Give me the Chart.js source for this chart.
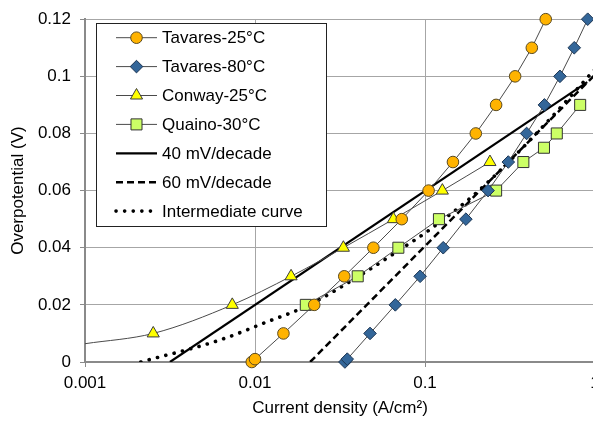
<!DOCTYPE html>
<html lang="en">
<head>
  <meta charset="UTF-8">
  <title>Overpotential vs current density</title>
  <script src="https://cdn.jsdelivr.net/npm/chart.js"></script>
  <style>
    html, body {
      margin: 0;
      padding: 0;
      background: #fff;
      overflow: hidden;
    }
    #wrap {
      position: absolute;
      left: 0;
      top: 0;
      width: 640px;
      height: 422px;
    }
  </style>
</head>
<body>

  <div id="wrap"><canvas id="tafelChart" width="640" height="422"></canvas></div>

  <script>
    // x = current density (A/cm2), y = overpotential (V)
    const tavares25X = [0.00957, 0.0100, 0.0147, 0.0223, 0.0335, 0.0497, 0.073, 0.105, 0.146, 0.199, 0.262, 0.339, 0.425, 0.513];
    const tavares25Y = [0, 0.001, 0.01, 0.02, 0.03, 0.04, 0.05, 0.06, 0.07, 0.08, 0.09, 0.10, 0.11, 0.12];

    const tavares80X = [0.0338, 0.0349, 0.0475, 0.0669, 0.0936, 0.128, 0.174, 0.235, 0.309, 0.396, 0.504, 0.622, 0.755, 0.906];
    const tavares80Y = [0, 0.001, 0.01, 0.02, 0.03, 0.04, 0.05, 0.06, 0.07, 0.08, 0.09, 0.10, 0.11, 0.12];

    const conwayX = [0.001, 0.00252, 0.00735, 0.0163, 0.0331, 0.0652, 0.1265, 0.241];
    const conwayY = [0.0064, 0.01, 0.02, 0.03, 0.04, 0.05, 0.06, 0.07];

    const quainoX = [0.0199, 0.0402, 0.0697, 0.1208, 0.262, 0.379, 0.501, 0.596, 0.818];
    const quainoY = [0.02, 0.03, 0.04, 0.05, 0.06, 0.07, 0.075, 0.08, 0.09];

    const tafel40X = [0.00316, 0.9];
    const tafel40Y = [0, 0.098];

    const tafel60X = [0.0211, 1];
    const tafel60Y = [0, 0.1006];

    const interX = [0.00213, 0.00622, 0.0117, 0.0205, 0.0402, 0.072, 0.102, 0.201, 0.452, 1];
    const interY = [0, 0.0077, 0.014, 0.0198, 0.0298, 0.0395, 0.0455, 0.0593, 0.080, 0.1025];

    const xTicks = [0.001, 0.01, 0.1, 1];
    const xTickLabels = ['0.001', '0.01', '0.1', '1'];
    const yTicks = [0, 0.02, 0.04, 0.06, 0.08, 0.1, 0.12];
    const yTickLabels = ['0', '0.02', '0.04', '0.06', '0.08', '0.1', '0.12'];

    const FONT = 'Liberation Sans, Arial, sans-serif';

    function pts(xs, ys) {
      return xs.map((x, i) => ({ x: x, y: ys[i] }));
    }

    const markerSeries = (label, xs, ys, style, radius, fill, edge, extra) => Object.assign({
      label: label,
      data: pts(xs, ys),
      showLine: true,
      borderColor: '#4a4a4a',
      borderWidth: 1,
      pointStyle: style,
      pointRadius: radius,
      pointBackgroundColor: fill,
      pointBorderColor: edge,
      pointBorderWidth: 1,
      clip: false
    }, extra || {});

    const datasets = [
      markerSeries('Tavares-25°C', tavares25X, tavares25Y, 'circle', 5.8, '#FFB300', '#5a4a20'),
      markerSeries('Tavares-80°C', tavares80X, tavares80Y, 'rectRot', 6.3, '#336699', '#1c3553'),
      markerSeries('Conway-25°C', conwayX, conwayY, 'triangle', 7, '#FFFF00', '#3a3a3a', {
        pointRadius: conwayX.map((x, i) => i === 0 ? 0 : 7),
        cubicInterpolationMode: 'monotone'
      }),
      markerSeries('Quaino-30°C', quainoX, quainoY, 'rect', 7.8, '#CCFF66', '#333333'),
      {
        label: '40 mV/decade',
        data: pts(tafel40X, tafel40Y),
        showLine: true,
        borderColor: '#000',
        borderWidth: 2.2,
        pointRadius: 0
      },
      {
        label: '60 mV/decade',
        data: pts(tafel60X, tafel60Y),
        showLine: true,
        borderColor: '#000',
        borderWidth: 2.5,
        borderDash: [7, 4],
        pointRadius: 0
      },
      {
        label: 'Intermediate curve',
        data: pts(interX, interY),
        showLine: true,
        borderColor: '#000',
        borderWidth: 3.6,
        borderDash: [0.1, 8.5],
        borderCapStyle: 'round',
        cubicInterpolationMode: 'monotone',
        pointRadius: 0
      }
    ];

    // legend drawn inside the plot, like the spreadsheet original
    const insideLegend = {
      id: 'insideLegend',
      afterDatasetsDraw(chart) {
        const c = chart.ctx;
        c.save();
        c.fillStyle = '#fff';
        c.fillRect(96, 23, 231, 204);
        c.strokeStyle = '#222';
        c.lineWidth = 1;
        c.strokeRect(96.5, 23.5, 230, 203);

        chart.data.datasets.forEach((ds, i) => {
          const y = 37.7 + i * 28.9;
          c.beginPath();
          c.setLineDash(ds.borderDash || []);
          c.lineCap = ds.borderCapStyle || 'butt';
          c.lineWidth = ds.borderWidth;
          c.strokeStyle = ds.borderColor;
          c.moveTo(116, y);
          c.lineTo(157, y);
          c.stroke();
          c.setLineDash([]);
          c.lineCap = 'butt';

          if (ds.pointStyle) {
            c.fillStyle = ds.pointBackgroundColor;
            c.strokeStyle = ds.pointBorderColor;
            c.lineWidth = ds.pointBorderWidth;
            const r = Array.isArray(ds.pointRadius) ? ds.pointRadius[ds.pointRadius.length - 1] : ds.pointRadius;
            Chart.helpers.drawPoint(c, { pointStyle: ds.pointStyle, radius: r, borderWidth: 1, rotation: 0 }, 136.5, y);
          }

          c.fillStyle = '#000';
          c.font = '17px ' + FONT;
          c.textBaseline = 'middle';
          c.textAlign = 'left';
          c.fillText(ds.label, 162, y + 1);
        });
        c.restore();
      }
    };

    const ctx = document.getElementById('tafelChart').getContext('2d');

    const chart = new Chart(ctx, {
      type: 'scatter',
      data: { datasets: datasets },
      options: {
        responsive: false,
        animation: false,
        layout: { padding: { top: 14, right: 45, bottom: 0, left: 0 } },
        plugins: {
          legend: { display: false },
          tooltip: { enabled: false }
        },
        scales: {
          x: {
            type: 'logarithmic',
            min: 0.001,
            max: 1,
            afterBuildTicks: (s) => { s.ticks = xTicks.map(v => ({ value: v })); },
            afterFit: (s) => { s.height = 60; },
            ticks: {
              callback: (v, i) => xTickLabels[i],
              autoSkip: false,
              maxRotation: 0,
              color: '#000',
              padding: 6,
              font: { family: FONT, size: 17 }
            },
            grid: { color: '#a6a6a6', tickColor: '#8a8a8a', tickLength: 5 },
            border: { color: '#8a8a8a', width: 2 },
            title: {
              display: true,
              text: 'Current density (A/cm²)',
              color: '#000',
              font: { family: FONT, size: 17 },
              padding: { top: 0, bottom: 3 }
            }
          },
          y: {
            min: 0,
            max: 0.12,
            afterBuildTicks: (s) => { s.ticks = yTicks.map(v => ({ value: v })); },
            afterFit: (s) => { s.width = 85; },
            ticks: {
              callback: (v, i) => yTickLabels[i],
              color: '#000',
              padding: 9,
              font: { family: FONT, size: 17 }
            },
            grid: { color: '#a6a6a6', tickColor: '#8a8a8a', tickLength: 5 },
            border: { color: '#8a8a8a', width: 2 },
            title: {
              display: true,
              text: 'Overpotential (V)',
              color: '#000',
              font: { family: FONT, size: 17 },
              padding: { top: 8, bottom: 0 }
            }
          }
        }
      },
      plugins: [insideLegend]
    });
  </script>

</body>
</html>
